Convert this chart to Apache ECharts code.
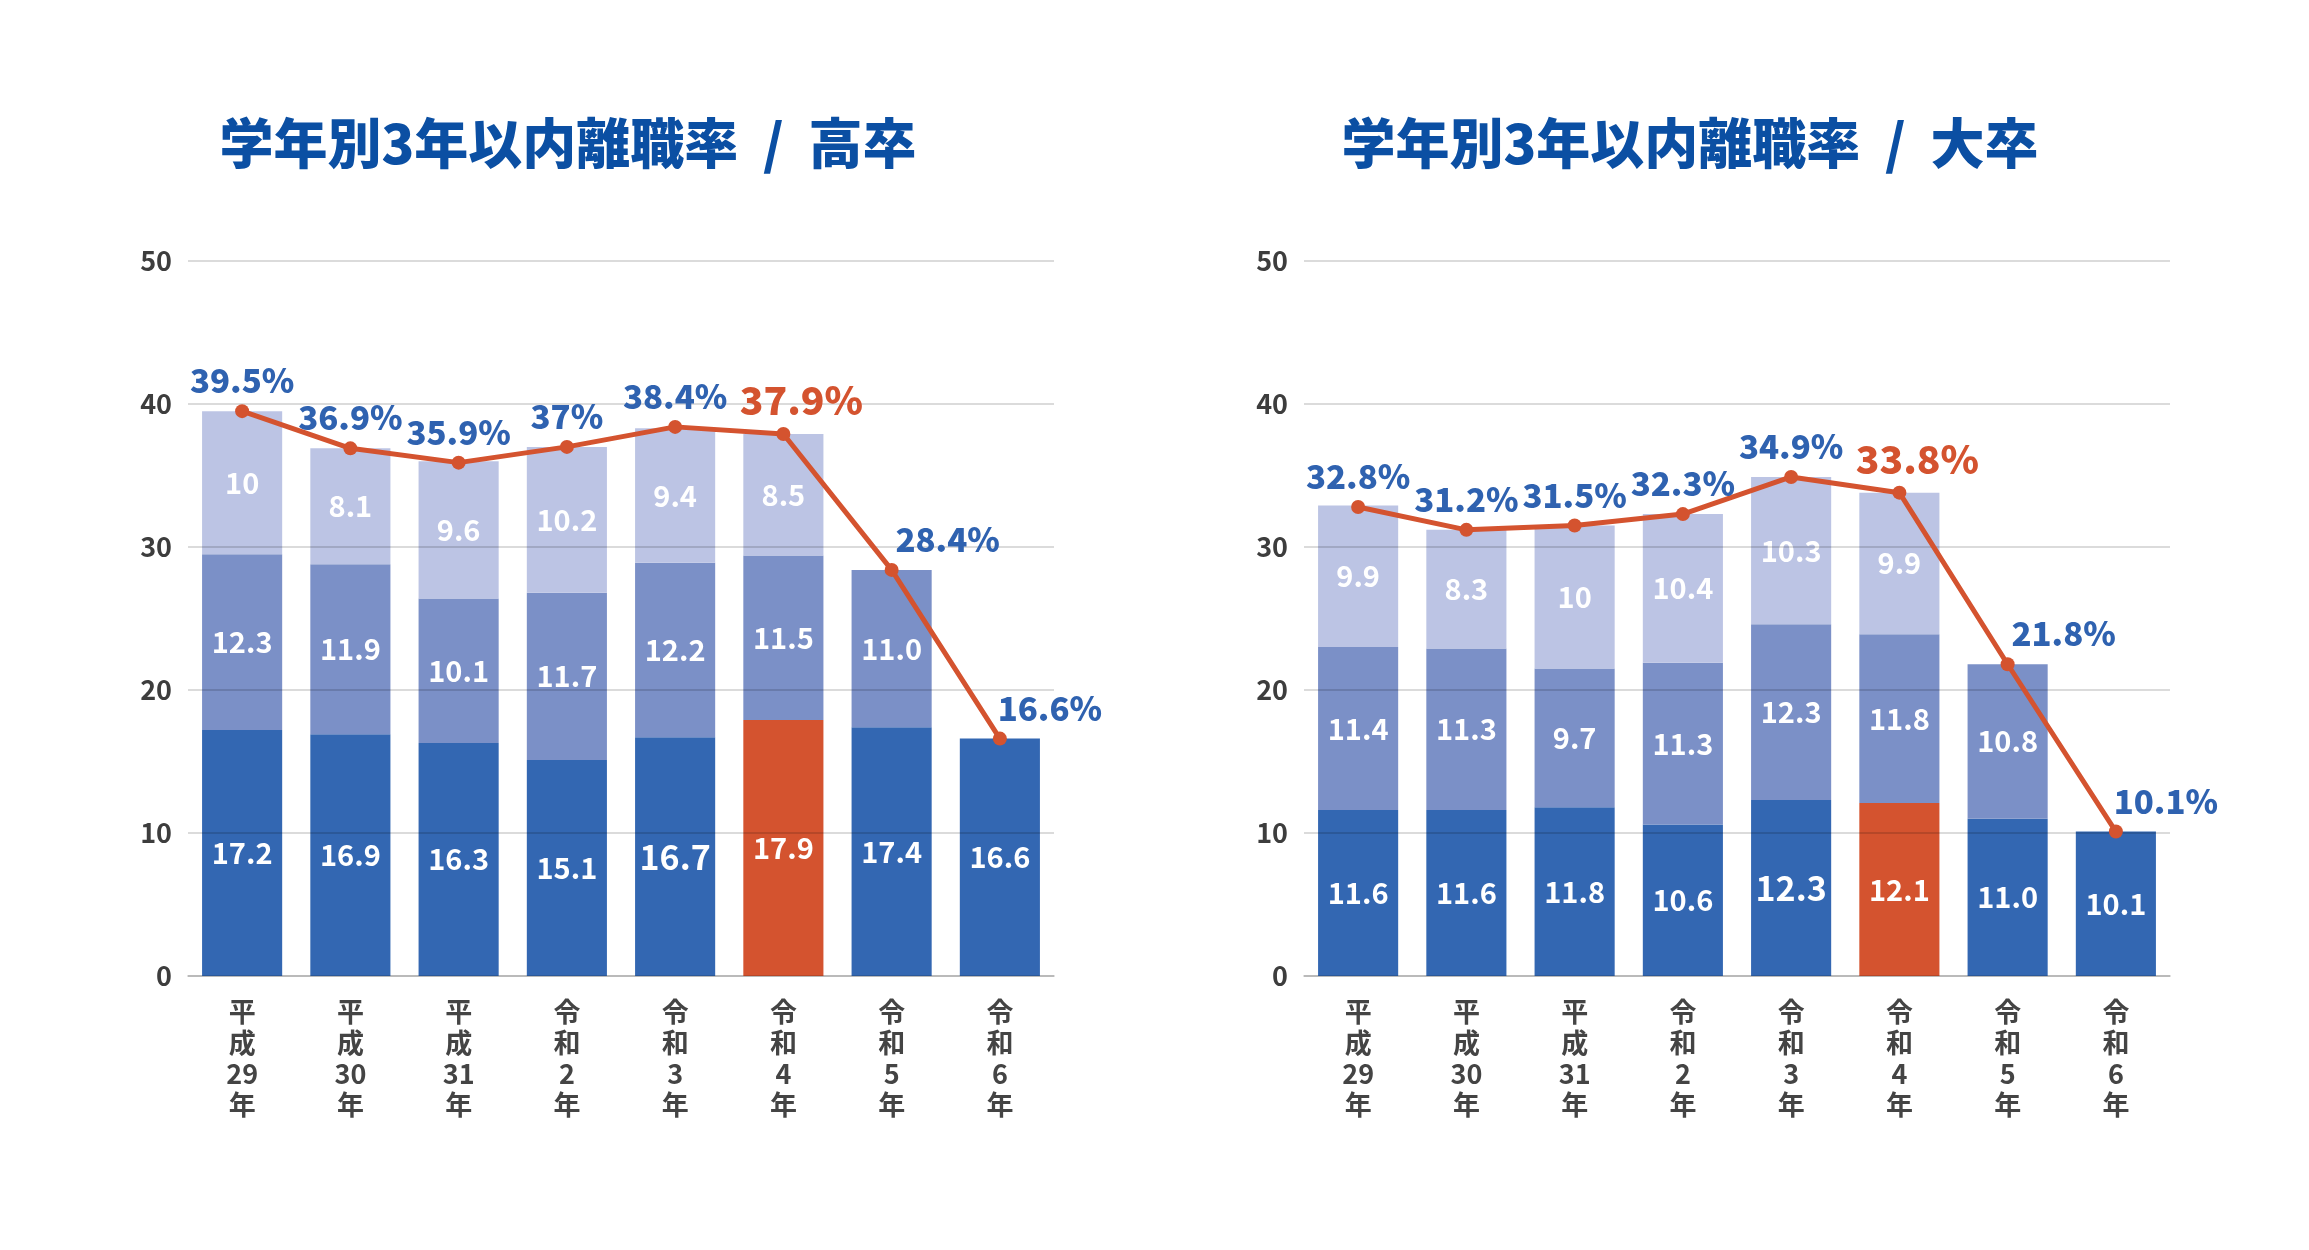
<!DOCTYPE html>
<html>
<head>
<meta charset="utf-8">
<title>学年別3年以内離職率</title>
<script src="https://cdn.jsdelivr.net/npm/echarts@6/dist/echarts.min.js"></script>
<style>
  html, body { margin: 0; padding: 0; background: #fff; }
  #chart { width: 2309px; height: 1250px; }
</style>
</head>
<body>
<div id="chart"></div>
<script>
// 年度
const years = ['平成29年', '平成30年', '平成31年', '令和2年', '令和3年', '令和4年', '令和5年', '令和6年'];

// 高卒（1年目・2年目・3年目の離職率, 合計）
const hsYear1 = ['17.2', '16.9', '16.3', '15.1', '16.7', '17.9', '17.4', '16.6'];
const hsYear2 = ['12.3', '11.9', '10.1', '11.7', '12.2', '11.5', '11.0', null];
const hsYear3 = ['10', '8.1', '9.6', '10.2', '9.4', '8.5', null, null];
const hsTotal = ['39.5', '36.9', '35.9', '37', '38.4', '37.9', '28.4', '16.6'];

// 大卒
const univYear1 = ['11.6', '11.6', '11.8', '10.6', '12.3', '12.1', '11.0', '10.1'];
const univYear2 = ['11.4', '11.3', '9.7', '11.3', '12.3', '11.8', '10.8', null];
const univYear3 = ['9.9', '8.3', '10', '10.4', '10.3', '9.9', null, null];
const univTotal = ['32.8', '31.2', '31.5', '32.3', '34.9', '33.8', '21.8', '10.1'];

const titles = ['学年別3年以内離職率  /  高卒', '学年別3年以内離職率  /  大卒'];

const FONT = '"Noto Sans CJK JP", "Noto Sans", sans-serif';
const BLUE_DARK = '#3367b2';
const BLUE_MID = '#7b90c7';
const BLUE_LIGHT = '#bcc4e4';
const RED = '#d4532f';
const HIGHLIGHT = 5;               // 令和4年を強調
const labelShift = [0, 0, 0, 0, 0, 18, 56, 50]; // 合計ラベルの横ずれ

function barSeries(idx, arr, color, name) {
  return {
    name: name,
    type: 'bar',
    stack: 'rate' + idx,
    xAxisIndex: idx,
    yAxisIndex: idx,
    barWidth: '74%',
    itemStyle: { color: color },
    label: {
      show: true,
      position: 'inside',
      color: '#fff',
      fontFamily: FONT,
      fontWeight: 'bold',
      fontSize: 29,
      formatter: p => arr[p.dataIndex]
    },
    data: arr.map((v, i) => {
      if (v === null) return '-';
      let item = { value: v };
      if (name === '1年目' && i === HIGHLIGHT) item.itemStyle = { color: RED };
      if (name === '1年目' && i === 4) item.label = { fontSize: 34 };
      return item;
    })
  };
}

function lineSeries(idx, arr) {
  return {
    name: '合計',
    type: 'line',
    xAxisIndex: idx,
    yAxisIndex: idx,
    z: 5,
    symbol: 'circle',
    symbolSize: 14,
    lineStyle: { color: RED, width: 5 },
    itemStyle: { color: RED },
    label: {
      show: true,
      position: 'top',
      distance: 7,
      color: '#2f62b0',
      fontFamily: FONT,
      fontWeight: 900,
      fontSize: 33,
      formatter: p => arr[p.dataIndex] + '%'
    },
    data: arr.map((v, i) => {
      let item = { value: v, label: { offset: [labelShift[i], 0] } };
      if (i === HIGHLIGHT) {
        item.label.color = RED;
        item.label.fontSize = 39;
      }
      return item;
    })
  };
}

const grids = [
  { left: 188, width: 866, top: 261, bottom: 274 },
  { left: 1304, width: 866, top: 261, bottom: 274 }
];

const option = {
  backgroundColor: '#fff',
  animation: false,
  title: titles.map((t, i) => ({
    text: t,
    left: i === 0 ? 568 : 1690,
    top: 116,
    textAlign: 'center',
    padding: 0,
    textStyle: {
      color: '#0b4fa3',
      fontFamily: FONT,
      fontWeight: 900,
      fontSize: 54
    }
  })),
  grid: grids,
  xAxis: grids.map((g, i) => ({
    type: 'category',
    gridIndex: i,
    data: years,
    axisTick: { show: false },
    axisLine: { lineStyle: { color: '#d9d9d9', width: 2 } },
    axisLabel: {
      interval: 0,
      margin: 20,
      color: '#444',
      fontFamily: FONT,
      fontWeight: 'bold',
      fontSize: 27,
      lineHeight: 31,
      formatter: name => name.match(/\d+|./g).join('\n')
    }
  })),
  yAxis: grids.map((g, i) => ({
    type: 'value',
    gridIndex: i,
    min: 0,
    max: 50,
    interval: 10,
    z: 3,
    axisLine: { show: false },
    axisTick: { show: false },
    splitLine: { lineStyle: { color: 'rgba(0,0,0,0.14)', width: 2 } },
    axisLabel: {
      margin: 16,
      color: '#3d3d3d',
      fontFamily: FONT,
      fontWeight: 'bold',
      fontSize: 27
    }
  })),
  series: [
    barSeries(0, hsYear1, BLUE_DARK, '1年目'),
    barSeries(0, hsYear2, BLUE_MID, '2年目'),
    barSeries(0, hsYear3, BLUE_LIGHT, '3年目'),
    lineSeries(0, hsTotal),
    barSeries(1, univYear1, BLUE_DARK, '1年目'),
    barSeries(1, univYear2, BLUE_MID, '2年目'),
    barSeries(1, univYear3, BLUE_LIGHT, '3年目'),
    lineSeries(1, univTotal)
  ]
};

const chart = echarts.init(document.getElementById('chart'));
chart.setOption(option);
</script>
</body>
</html>
